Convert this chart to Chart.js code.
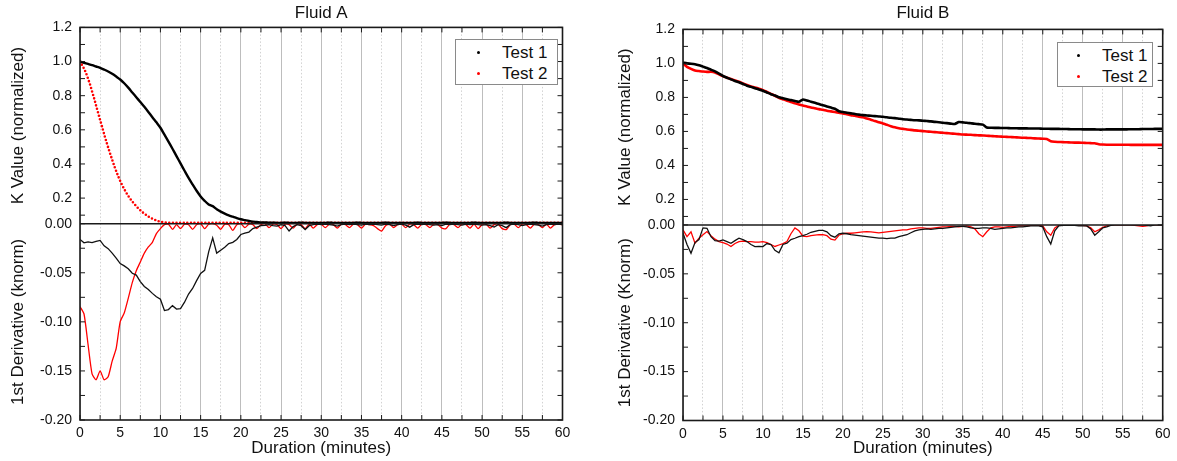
<!DOCTYPE html>
<html>
<head>
<meta charset="utf-8">
<script src="https://cdn.jsdelivr.net/npm/chart.js@4.4.1/dist/chart.umd.min.js"></script>
<style>
  body { margin: 0; background: #fff; overflow: hidden; }
  #wrap { position: relative; width: 1177px; height: 461px; }
  canvas { position: absolute; top: 0; }
  .legend { position: absolute; box-sizing: border-box; background: #fff; border: 1px solid #8a8a8a;
            font: 17px "Liberation Sans", Arial, sans-serif; color: #111; }
  .legend .row { position: absolute; left: 0; right: 0; height: 21px; line-height: 21px; }
  .legend .dot { position: absolute; top: 9px; width: 3px; height: 3px; border-radius: 50%; }
  .legend .txt { position: absolute; top: 0; }
</style>
</head>
<body>
<div id="wrap">
  <canvas id="cA" width="590" height="461" style="left:0"></canvas>
  <canvas id="cB" width="577" height="461" style="left:600px"></canvas>
</div>
<script>
// sample times (minutes)
const tHalf = [
  0,0.5,1,1.5,2,2.5,3,3.5,4,4.5,
  5,5.5,6,6.5,7,7.5,8,8.5,9,9.5,
  10,10.5,11,11.5,12,12.5,13,13.5,14,14.5,
  15,15.5,16,16.5,17,17.5,18,18.5,19,19.5,
  20,20.5,21,21.5,22,22.5,23,23.5,24,24.5,
  25,25.5,26,26.5,27,27.5,28,28.5,29,29.5,
  30,30.5,31,31.5,32,32.5,33,33.5,34,34.5,
  35,35.5,36,36.5,37,37.5,38,38.5,39,39.5,
  40,40.5,41,41.5,42,42.5,43,43.5,44,44.5,
  45,45.5,46,46.5,47,47.5,48,48.5,49,49.5,
  50,50.5,51,51.5,52,52.5,53,53.5,54,54.5,
  55,55.5,56,56.5,57,57.5,58,58.5,59,59.5,
  60
];
const tA2 = [
  0,0.25,0.5,0.75,1,1.25,1.5,1.75,2,2.25,
  2.5,2.75,3,3.25,3.5,3.75,4,4.25,4.5,4.75,
  5,5.25,5.5,5.75,6,6.25,6.5,6.75,7,7.25,
  7.5,7.75,8,8.25,8.5,8.75,9,9.25,9.5,9.75,
  10,10.25,10.5,10.75,11,
  12,13,14,15,16,17,18,19,20,21,
  22,23,24,25,26,27,28,29,30,31,
  32,33,34,35,36,37,38,39,40,41,
  42,43,44,45,46,47,48,49,50,51,
  52,53,54,55,56,57,58,59,60
];

// Fluid A - K value (normalized)
const kA1 = [
  1.000,0.993,0.986,0.979,0.971,0.963,0.953,0.942,0.928,0.912,
  0.895,0.873,0.847,0.819,0.791,0.763,0.735,0.705,0.674,0.644,
  0.612,0.572,0.531,0.489,0.446,0.403,0.360,0.318,0.280,0.243,
  0.210,0.184,0.163,0.153,0.135,0.121,0.109,0.099,0.091,0.083,
  0.076,0.071,0.066,0.062,0.060,0.058,0.057,0.056,0.056,0.055,
  0.055,0.056,0.055,0.055,0.055,0.056,0.055,0.055,0.055,0.055,
  0.055,0.055,0.056,0.055,0.055,0.055,0.055,0.055,0.055,0.056,
  0.055,0.055,0.055,0.055,0.055,0.055,0.056,0.055,0.055,0.055,
  0.055,0.055,0.055,0.055,0.056,0.055,0.055,0.055,0.055,0.055,
  0.055,0.056,0.055,0.055,0.055,0.055,0.055,0.055,0.056,0.055,
  0.055,0.055,0.055,0.055,0.055,0.055,0.056,0.055,0.055,0.055,
  0.055,0.055,0.055,0.056,0.055,0.055,0.055,0.055,0.055,0.055,
  0.055
];
const kA2 = [
  1.000,0.980,0.958,0.932,0.900,0.865,0.825,0.785,0.742,0.700,
  0.658,0.617,0.575,0.535,0.497,0.460,0.425,0.390,0.358,0.328,
  0.300,0.275,0.253,0.232,0.213,0.196,0.180,0.166,0.152,0.140,
  0.129,0.118,0.109,0.100,0.092,0.085,0.079,0.074,0.069,0.065,
  0.062,0.060,0.058,0.057,0.056,
  0.055,0.055,0.055,0.055,0.055,0.055,0.055,0.055,0.055,0.055,
  0.055,0.055,0.055,0.055,0.055,0.055,0.055,0.055,0.055,0.055,
  0.055,0.055,0.055,0.055,0.055,0.055,0.055,0.055,0.055,0.055,
  0.055,0.055,0.055,0.055,0.055,0.055,0.055,0.055,0.055,0.055,
  0.055,0.055,0.055,0.055,0.055,0.055,0.055,0.055,0.055
];
// Fluid A - 1st derivative
const dA1 = [
  -0.016,-0.0195,-0.0186,-0.0193,-0.018,-0.017,-0.0225,-0.0254,-0.030,-0.035,
  -0.0406,-0.043,-0.046,-0.0505,-0.0524,-0.059,-0.064,-0.067,-0.071,-0.0744,
  -0.077,-0.0885,-0.0875,-0.0835,-0.087,-0.0865,-0.080,-0.0717,-0.066,-0.058,
  -0.0507,-0.0475,-0.0287,-0.0145,-0.030,-0.027,-0.024,-0.0203,-0.019,-0.016,
  -0.011,-0.0095,-0.0085,-0.005,-0.0034,-0.002,-0.0017,-0.001,-0.002,-0.0025,
  -0.001,-0.002,-0.0075,-0.003,-0.001,-0.002,-0.006,-0.002,-0.001,-0.0005,
  -0.001,-0.0005,-0.001,-0.0015,-0.0025,-0.001,-0.0005,-0.001,-0.0005,-0.001,
  -0.0015,-0.0005,-0.001,-0.0005,-0.001,-0.0015,-0.0005,-0.001,-0.002,-0.001,
  -0.0005,-0.0015,-0.0035,-0.001,-0.0005,-0.001,-0.0005,-0.001,-0.0015,-0.001,
  -0.002,-0.0005,-0.001,-0.0005,-0.001,-0.0015,-0.0005,-0.001,-0.0005,-0.001,
  -0.0015,-0.001,-0.002,-0.0035,-0.001,-0.002,-0.004,-0.001,-0.0005,-0.001,
  -0.002,-0.001,-0.0005,-0.001,-0.0015,-0.0025,-0.001,-0.0005,-0.001,-0.0005,
  -0.001
];
const dA2 = [
  -0.0845,-0.092,-0.123,-0.153,-0.159,-0.150,-0.159,-0.156,-0.140,-0.127,
  -0.0997,-0.091,-0.076,-0.060,-0.048,-0.039,-0.030,-0.0237,-0.019,-0.0101,
  -0.005,-0.001,-0.0005,-0.0057,-0.001,-0.005,-0.0005,-0.001,-0.0057,-0.001,
  0,-0.005,-0.0005,0,-0.0015,-0.0057,-0.0005,-0.001,-0.0068,-0.001,
  0,-0.004,-0.0005,-0.001,-0.005,-0.001,0,-0.004,-0.0005,-0.001,
  -0.005,-0.0005,-0.001,-0.0045,-0.0005,-0.001,-0.005,-0.0005,-0.0045,-0.001,
  -0.0005,-0.004,-0.0005,-0.001,-0.0045,-0.0005,-0.001,-0.004,-0.0005,-0.001,
  -0.0045,-0.0005,-0.001,-0.002,-0.005,-0.0075,-0.002,-0.0005,-0.004,-0.001,
  -0.0005,-0.004,-0.0005,-0.001,-0.0045,-0.0005,-0.001,-0.004,-0.0005,-0.001,
  -0.0045,-0.005,-0.0005,-0.001,-0.004,-0.0005,-0.001,-0.0045,-0.0005,-0.005,
  -0.001,-0.0005,-0.0045,-0.001,-0.0005,-0.005,-0.006,-0.001,-0.0005,-0.004,
  -0.0005,-0.001,-0.0045,-0.0005,-0.001,-0.004,-0.0005,-0.0045,-0.001,-0.0005,
  -0.001
];

// Fluid B - K value (normalized)
const kB1 = [
  1.004,1.000,0.998,0.995,0.989,0.981,0.973,0.963,0.953,0.940,
  0.926,0.916,0.906,0.897,0.889,0.879,0.869,0.862,0.854,0.847,
  0.839,0.829,0.819,0.811,0.801,0.795,0.789,0.784,0.779,0.775,
  0.788,0.782,0.775,0.768,0.761,0.754,0.747,0.740,0.733,0.719,
  0.714,0.710,0.706,0.702,0.699,0.696,0.694,0.692,0.690,0.688,
  0.686,0.683,0.680,0.678,0.675,0.672,0.670,0.668,0.666,0.665,
  0.663,0.661,0.659,0.656,0.654,0.651,0.649,0.646,0.644,0.655,
  0.653,0.651,0.648,0.645,0.643,0.640,0.623,0.622,0.621,0.621,
  0.620,0.620,0.619,0.619,0.618,0.618,0.618,0.617,0.617,0.617,
  0.616,0.616,0.615,0.615,0.615,0.614,0.614,0.613,0.613,0.613,
  0.612,0.612,0.612,0.612,0.611,0.611,0.612,0.612,0.612,0.612,
  0.612,0.612,0.613,0.613,0.613,0.614,0.614,0.614,0.615,0.615,
  0.615
];
const kB2 = [
  1.000,0.980,0.968,0.958,0.955,0.952,0.950,0.951,0.947,0.936,
  0.925,0.916,0.908,0.900,0.892,0.882,0.873,0.865,0.858,0.851,
  0.843,0.832,0.821,0.810,0.798,0.789,0.781,0.773,0.765,0.758,
  0.752,0.747,0.741,0.736,0.731,0.727,0.722,0.718,0.714,0.710,
  0.706,0.701,0.696,0.692,0.687,0.683,0.676,0.669,0.661,0.654,
  0.647,0.639,0.631,0.624,0.619,0.615,0.611,0.609,0.606,0.604,
  0.602,0.600,0.598,0.596,0.594,0.592,0.590,0.588,0.586,0.584,
  0.582,0.581,0.580,0.578,0.577,0.576,0.575,0.573,0.572,0.570,
  0.569,0.568,0.567,0.566,0.564,0.563,0.562,0.561,0.559,0.558,
  0.557,0.556,0.542,0.539,0.538,0.537,0.536,0.535,0.534,0.534,
  0.533,0.532,0.531,0.530,0.525,0.523,0.522,0.522,0.522,0.522,
  0.522,0.522,0.521,0.521,0.521,0.521,0.521,0.521,0.521,0.521,
  0.521
];
// Fluid B - 1st derivative
const dB1 = [
  -0.0085,-0.020,-0.029,-0.018,-0.015,-0.003,-0.0034,-0.012,-0.016,-0.0165,
  -0.0153,-0.017,-0.0187,-0.016,-0.0136,-0.015,-0.017,-0.020,-0.0221,-0.022,
  -0.0221,-0.019,-0.020,-0.026,-0.0285,-0.020,-0.0187,-0.015,-0.0136,-0.012,
  -0.011,-0.0095,-0.0075,-0.0065,-0.0055,-0.0055,-0.007,-0.011,-0.0125,-0.009,
  -0.0085,-0.009,-0.010,-0.0105,-0.011,-0.0115,-0.012,-0.0125,-0.013,-0.0135,
  -0.0135,-0.014,-0.0135,-0.0135,-0.012,-0.011,-0.010,-0.008,-0.006,-0.005,
  -0.0045,-0.004,-0.0045,-0.004,-0.0035,-0.0035,-0.003,-0.0025,-0.002,-0.0015,
  -0.0015,-0.002,-0.003,-0.0035,-0.0035,-0.003,-0.003,-0.0035,-0.0045,-0.004,
  -0.0035,-0.003,-0.003,-0.0025,-0.002,-0.002,-0.0015,-0.001,-0.001,-0.001,
  -0.002,-0.012,-0.0195,-0.006,-0.001,-0.0005,-0.0005,-0.0005,-0.0005,-0.001,
  -0.001,-0.001,-0.004,-0.0105,-0.007,-0.003,-0.002,-0.0005,0,0,
  0,0,0,0,0,0,-0.0005,-0.001,0,0,
  0
];
const dB2 = [
  -0.005,-0.012,-0.007,-0.0187,-0.0136,-0.010,-0.0068,-0.011,-0.0145,-0.017,
  -0.018,-0.0195,-0.022,-0.019,-0.017,-0.0165,-0.017,-0.017,-0.0175,-0.0175,
  -0.017,-0.018,-0.020,-0.022,-0.0205,-0.019,-0.017,-0.009,-0.003,-0.006,
  -0.0115,-0.012,-0.011,-0.0105,-0.010,-0.010,-0.011,-0.0145,-0.0155,-0.0105,
  -0.009,-0.0085,-0.0085,-0.008,-0.0075,-0.007,-0.0068,-0.007,-0.0075,-0.008,
  -0.0075,-0.007,-0.0065,-0.006,-0.0055,-0.005,-0.005,-0.004,-0.0035,-0.003,
  -0.003,-0.0035,-0.0035,-0.003,-0.0025,-0.002,-0.002,-0.0015,-0.0015,-0.002,
  -0.0015,-0.001,-0.002,-0.004,-0.009,-0.012,-0.007,-0.003,-0.002,-0.002,
  -0.0025,-0.002,-0.0015,-0.0015,-0.001,-0.001,-0.001,-0.0005,-0.0005,-0.0005,
  -0.001,-0.007,-0.0105,-0.003,-0.0005,-0.0005,-0.0005,0,0,-0.0005,
  -0.0005,-0.001,-0.003,-0.007,-0.005,-0.0025,-0.001,0,0,0,
  0,0,0,-0.0005,-0.001,-0.0015,-0.001,0,0,0,
  0
];

// tick labels and inward tick marks
const kLabels = [0.2, 0.4, 0.6, 0.8, 1.0, 1.2];
const dLabels = [-0.2, -0.15, -0.1, -0.05, 0];
const xMarks = [0,2.5,5,7.5,10,12.5,15,17.5,20,22.5,25,27.5,30,32.5,35,37.5,40,42.5,45,47.5,50,52.5,55,57.5,60];
const kMarks = [0.1,0.2,0.3,0.4,0.5,0.6,0.7,0.8,0.9,1.0,1.1,1.2];
const dMarks = [-0.2,-0.175,-0.15,-0.125,-0.1,-0.075,-0.05,-0.025,0];

Chart.defaults.font.family = '"Liberation Sans", Arial, sans-serif';
Chart.defaults.font.size = 14;
Chart.defaults.color = '#111';

const pts = (xs, ys) => xs.map((x, i) => ({x: x, y: ys[i]}));

// frame, divider line at 0 and inward ticks on all four sides
const frameTicks = {
  id: 'frameTicks',
  afterDatasetsDraw(chart) {
    const {ctx, chartArea: a, scales} = chart;
    const sx = scales.x, sk = scales.yK, sd = scales.yD;
    ctx.save();
    ctx.strokeStyle = '#1a1a1a';
    ctx.lineWidth = 1;
    ctx.beginPath();
    xMarks.forEach(t => {
      const px = sx.getPixelForValue(t);
      ctx.moveTo(px, a.top); ctx.lineTo(px, a.top + 5);
      ctx.moveTo(px, a.bottom); ctx.lineTo(px, a.bottom - 5);
    });
    kMarks.forEach(v => {
      const py = sk.getPixelForValue(v);
      ctx.moveTo(a.left, py); ctx.lineTo(a.left + 5, py);
      ctx.moveTo(a.right, py); ctx.lineTo(a.right - 5, py);
    });
    dMarks.forEach(v => {
      const py = sd.getPixelForValue(v);
      ctx.moveTo(a.left, py); ctx.lineTo(a.left + 5, py);
      ctx.moveTo(a.right, py); ctx.lineTo(a.right - 5, py);
    });
    ctx.stroke();
    ctx.lineWidth = 1.6;
    ctx.strokeRect(a.left, a.top, a.right - a.left, a.bottom - a.top);
    const y0 = sd.getPixelForValue(0);
    ctx.beginPath();
    ctx.moveTo(a.left, y0); ctx.lineTo(a.right, y0);
    ctx.stroke();
    ctx.restore();
  }
};

function makeChart(id, cfg) {
  return new Chart(document.getElementById(id), {
    type: 'line',
    data: { datasets: cfg.datasets },
    options: {
      responsive: false,
      animation: false,
      devicePixelRatio: 1,
      layout: { padding: { left: 0, right: cfg.padRight, top: 0, bottom: 0 } },
      elements: { point: { radius: 0 } },
      plugins: {
        legend: { display: false },
        tooltip: { enabled: false },
        title: {
          display: true, text: cfg.title, fullSize: false, color: '#111',
          font: { size: 17, weight: 'normal' }, padding: cfg.titlePad
        }
      },
      scales: {
        x: {
          type: 'linear', position: 'bottom', min: 0, max: 60,
          ticks: { stepSize: 5, padding: 5, autoSkip: false, maxRotation: 0 },
          grid: { color: '#bdbdbd', lineWidth: 1, drawTicks: false },
          border: { display: false },
          title: { display: true, text: 'Duration (minutes)', font: { size: 17 }, padding: { top: 0, bottom: 2 } },
          afterFit: s => { s.height = cfg.xHeight; }
        },
        xm: {
          type: 'linear', position: 'bottom', min: 0, max: 60,
          ticks: { display: false, stepSize: 2.5 },
          grid: {
            drawTicks: false, lineWidth: 1,
            color: c => (c.tick && c.tick.value % 5 === 0) ? 'rgba(0,0,0,0)' : '#d2d2d2'
          },
          border: { display: false, dash: [1.5, 2] },
          afterFit: s => { s.height = 0; }
        },
        yK: {
          type: 'linear', position: 'left', stack: 'p', stackWeight: 1, weight: 2,
          min: 0.05, max: 1.2,
          afterBuildTicks: s => { s.ticks = kLabels.map(v => ({ value: v })); },
          ticks: { padding: 8, callback: v => Number(v).toFixed(1) },
          grid: { drawOnChartArea: false, drawTicks: false },
          border: { display: false },
          title: { display: true, text: 'K Value (normalized)', font: { size: 17 }, padding: { top: cfg.yTitlePad, bottom: cfg.yTitlePad } },
          afterFit: s => { s.width = cfg.yWidth; }
        },
        yD: {
          type: 'linear', position: 'left', stack: 'p', stackWeight: 1, weight: 1,
          min: -0.2, max: 0,
          afterBuildTicks: s => { s.ticks = dLabels.map(v => ({ value: v })); },
          ticks: { padding: 8, callback: v => Number(v).toFixed(2) },
          grid: { drawOnChartArea: false, drawTicks: false },
          border: { display: false },
          title: { display: true, text: cfg.dTitle, font: { size: 17 }, padding: { top: cfg.yTitlePad, bottom: cfg.yTitlePad } },
          afterFit: s => { s.width = cfg.yWidth; }
        }
      }
    },
    plugins: [frameTicks]
  });
}

const chartA = makeChart('cA', {
  title: 'Fluid A', dTitle: '1st Derivative (knorm)',
  padRight: 27.5, xHeight: 41, yWidth: 80, yTitlePad: 8, titlePad: { top: 3, bottom: 4 },
  datasets: [
    { label: 'Test 1', data: pts(tHalf, kA1), yAxisID: 'yK', xAxisID: 'x', borderColor: '#000', borderWidth: 2.4, tension: 0.3 },
    { label: 'Test 2', data: pts(tA2, kA2), yAxisID: 'yK', xAxisID: 'x', borderColor: '#ff0000', borderWidth: 2.6,
      borderDash: [0, 3.6], borderCapStyle: 'round', tension: 0.3 },
    { label: 'Test 1', data: pts(tHalf, dA1), yAxisID: 'yD', xAxisID: 'x', borderColor: '#111', borderWidth: 1.3, tension: 0 },
    { label: 'Test 2', data: pts(tHalf, dA2), yAxisID: 'yD', xAxisID: 'x', borderColor: '#ff0000', borderWidth: 1.3, tension: 0.2 }
  ]
});

const chartB = makeChart('cB', {
  title: 'Fluid B', dTitle: '1st Derivative (Knorm)',
  padRight: 14.3, xHeight: 40.5, yWidth: 83, yTitlePad: 15, titlePad: { top: 3, bottom: 6 },
  datasets: [
    { label: 'Test 1', data: pts(tHalf, kB1), yAxisID: 'yK', xAxisID: 'x', borderColor: '#000', borderWidth: 2.6, tension: 0.2 },
    { label: 'Test 2', data: pts(tHalf, kB2), yAxisID: 'yK', xAxisID: 'x', borderColor: '#ff0000', borderWidth: 2.6, tension: 0.2 },
    { label: 'Test 1', data: pts(tHalf, dB1), yAxisID: 'yD', xAxisID: 'x', borderColor: '#111', borderWidth: 1.3, tension: 0 },
    { label: 'Test 2', data: pts(tHalf, dB2), yAxisID: 'yD', xAxisID: 'x', borderColor: '#ff0000', borderWidth: 1.3, tension: 0 }
  ]
});

// legend boxes inside the top plots, built from the datasets
function addLegend(chart, pos) {
  const box = document.createElement('div');
  box.className = 'legend';
  Object.assign(box.style, { left: pos.left + 'px', top: pos.top + 'px', width: pos.w + 'px', height: pos.h + 'px' });
  chart.data.datasets.filter(d => d.yAxisID === 'yK').forEach((d, i) => {
    const row = document.createElement('div');
    row.className = 'row';
    row.style.top = (2 + i * 21) + 'px';
    const dot = document.createElement('span');
    dot.className = 'dot';
    dot.style.left = (pos.dotX - 1.5) + 'px';
    dot.style.background = d.borderColor;
    const txt = document.createElement('span');
    txt.className = 'txt';
    txt.style.left = pos.textX + 'px';
    txt.textContent = d.label;
    row.appendChild(dot);
    row.appendChild(txt);
    box.appendChild(row);
  });
  document.getElementById('wrap').appendChild(box);
}
addLegend(chartA, { left: 455, top: 39, w: 103, h: 46, dotX: 22, textX: 46 });
addLegend(chartB, { left: 1057, top: 42, w: 96, h: 45, dotX: 20, textX: 44 });
</script>
</body>
</html>
